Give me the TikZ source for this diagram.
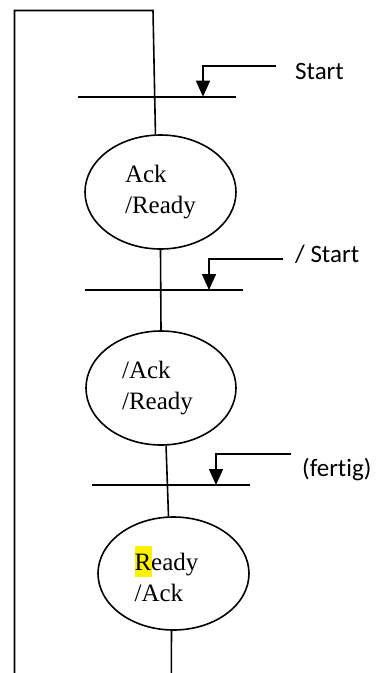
\documentclass[tikz,border=0pt]{standalone}
\usepackage{fontspec}
\setmainfont{Liberation Serif}
\newfontfamily\calfont[Ligatures=NoCommon]{Carlito}
\usetikzlibrary{arrows.meta,shapes.geometric}

% yellow marker behind a single letter
\newcommand{\markletter}[1]{{\setlength{\fboxsep}{0pt}\colorbox{yellow}{\rule[-6.3pt]{0pt}{31pt}#1\hspace{1pt}}}}

\begin{document}
\begin{tikzpicture}[x=1pt,y=-1pt,
  line/.style={line width=1.6pt},
  state/.style={ellipse,draw,line width=1.6pt,inner sep=0pt,
    align=left,font=\fontsize{25}{31}\selectfont},
  bar/.style={line width=1.6pt},
  cond/.style={line width=1.6pt,-{Triangle[length=16pt,width=14pt]}},
  condtext/.style={anchor=base west,inner sep=0pt,font=\calfont\fontsize{25}{30}\selectfont}]

\useasboundingbox (0,0) rectangle (378,673);

% states
\node[state,minimum width=151pt,minimum height=114pt] (E1) at (160.5,192) {Ack\\/Ready};
\node[state,minimum width=150pt,minimum height=114pt] (E2) at (161,388) {/Ack\\/Ready\hspace*{7pt}};
\node[state,minimum width=151pt,minimum height=113pt] (E3) at (173.5,573.5) {\markletter{R}\hspace{-1pt}eady\hspace*{14pt}\\/Ack};

% transition bars
\coordinate (b1w) at (78,96.7);  \coordinate (b1e) at (236,96.7);
\coordinate (b2w) at (85,290);   \coordinate (b2e) at (243,290);
\coordinate (b3w) at (92,485);   \coordinate (b3e) at (250,485);
\draw[bar] (b1w) -- (b1e);
\draw[bar] (b2w) -- (b2e);
\draw[bar] (b3w) -- (b3e);

% feedback loop and flow line
\coordinate (loopbot) at (14.5,673);
\coordinate (loopl) at (14.5,10.5);
\coordinate (loopr) at (153,10.5);
\coordinate (tail) at (171.3,673);
\draw[line] (loopbot) -- (loopl) -- (loopr) -- (E1.95);
\draw[line] (E1.south) -- (E2.north);
\draw[line] (E2.-85) -- (E3.95);
\draw[line] (E3.-92) -- (tail);

% transition conditions
\node[condtext] (c1) at (295,79.3) {Start};
\node[condtext] (c2) at (295,262.3) {/ Start};
\node[condtext] (c3) at (302,476.5) {(fertig)};

\coordinate (a1s) at (276,65.7); \coordinate (a1k) at (203,65.7); \coordinate (a1e) at (203,96.7);
\coordinate (a2s) at (283,259);  \coordinate (a2k) at (209,259);  \coordinate (a2e) at (209,290);
\coordinate (a3s) at (291,454);  \coordinate (a3k) at (216,454);  \coordinate (a3e) at (216,485);
\draw[cond] (a1s) -- (a1k) -- (a1e);
\draw[cond] (a2s) -- (a2k) -- (a2e);
\draw[cond] (a3s) -- (a3k) -- (a3e);
\end{tikzpicture}
\end{document}
